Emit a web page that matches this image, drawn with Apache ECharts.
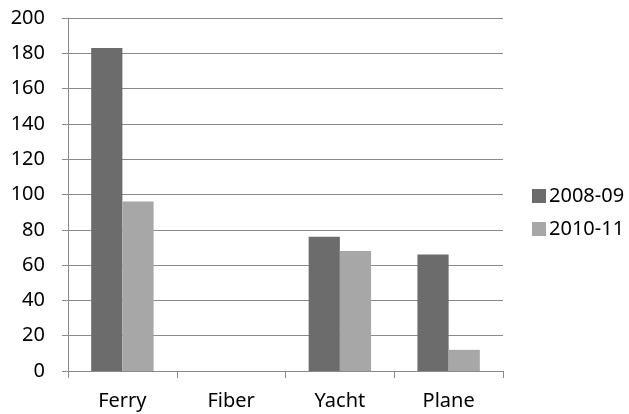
<!DOCTYPE html>
<html>
<head>
<meta charset="utf-8">
<script src="https://cdn.jsdelivr.net/npm/echarts@6/dist/echarts.min.js"></script>
<style>
html,body{margin:0;padding:0;background:#fff;}
#chart{width:629px;height:414px;}
</style>
</head>
<body>
<div id="chart"></div>
<script>
const categories = ["Ferry", "Fiber", "Yacht", "Plane"];
const seriesNames = ["2008-09", "2010-11"];
const values2008 = [183, 0, 76, 66];
const values2010 = [96, 0, 68, 12];
const yTicks = [0, 20, 40, 60, 80, 100, 120, 140, 160, 180, 200];

const FONT = "Noto Sans";
const chart = echarts.init(document.getElementById('chart'), null, {renderer: 'canvas'});
chart.setOption({
  animation: false,
  backgroundColor: '#ffffff',
  textStyle: {fontFamily: FONT},
  grid: {left: 68, right: 126, top: 18, bottom: 43, containLabel: false},
  legend: {
    orient: 'vertical',
    left: 527,
    top: 181,
    itemWidth: 14,
    itemHeight: 14,
    itemGap: 13,
    icon: 'rect',
    textStyle: {fontFamily: FONT, fontSize: 20, color: '#000', padding: [0, 0, 0, -2]},
    data: seriesNames
  },
  xAxis: {
    type: 'category',
    data: categories,
    axisLine: {show: true, lineStyle: {color: '#8a8a8a', width: 1}},
    axisTick: {show: true, length: 7, lineStyle: {color: '#8a8a8a'}},
    axisLabel: {fontFamily: FONT, fontSize: 20, color: '#000', margin: 20},
    splitLine: {show: false}
  },
  yAxis: {
    type: 'value',
    min: yTicks[0],
    max: yTicks[yTicks.length - 1],
    interval: yTicks[1] - yTicks[0],
    axisLine: {show: true, lineStyle: {color: '#8a8a8a', width: 1}},
    axisTick: {show: true, length: 6, lineStyle: {color: '#8a8a8a'}},
    axisLabel: {fontFamily: FONT, fontSize: 20, color: '#000', margin: 23},
    splitLine: {show: true, lineStyle: {color: '#8a8a8a', width: 1}}
  },
  series: [
    {
      name: seriesNames[0],
      type: 'bar',
      data: values2008,
      barGap: '0%',
      barCategoryGap: '42.6%',
      itemStyle: {color: '#6c6c6c'}
    },
    {
      name: seriesNames[1],
      type: 'bar',
      data: values2010,
      barGap: '0%',
      barCategoryGap: '42.6%',
      itemStyle: {color: '#a7a7a7'}
    }
  ]
});
</script>
</body>
</html>
